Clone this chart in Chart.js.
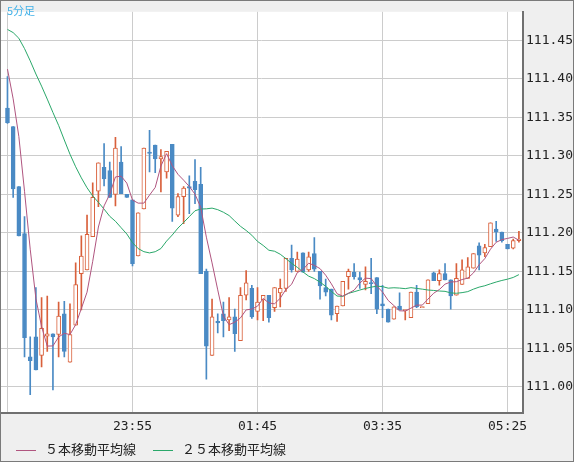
<!DOCTYPE html>
<html>
<head>
<meta charset="utf-8">
<script src="https://cdn.jsdelivr.net/npm/chart.js@4"></script>
<style>
  body { margin: 0; background: #efefef; font-family: "Noto Sans CJK JP", sans-serif; }
  #wrap { position: relative; width: 574px; height: 462px; box-sizing: border-box; border: 1px solid #7a7a7a; background: #efefef; }
  #box { position: absolute; left: 0; top: 0; width: 572px; height: 438px; }
  #title { position: absolute; left: 6px; top: 1px; font-size: 11px; color: #3fb0e8; }
  #legend { position: absolute; left: 0; top: 437px; width: 572px; height: 23px; font-size: 13px; color: #222; }
  .item { position: absolute; top: 1px; }
  .sw { display: inline-block; width: 20px; height: 1px; vertical-align: middle; margin-right: 9px; }
</style>
</head>
<body>
<div id="wrap">
  <div id="box"><canvas id="myChart"></canvas></div>
  <div id="title">5分足</div>
  <div id="legend">
    <span class="item" style="left:15px"><span class="sw" style="background:#b0557f"></span>５本移動平均線</span>
    <span class="item" style="left:152px"><span class="sw" style="background:#2aa86a"></span>２５本移動平均線</span>
  </div>
</div>
<script>
let timeLabels = { 0: "", 22: "23:55", 44: "01:45", 66: "03:35", 88: "05:25" };
let priceTicks = [111.00, 111.05, 111.10, 111.15, 111.20, 111.25, 111.30, 111.35, 111.40, 111.45];

// closes of the 24 candles before the visible window (only feed the averages)
let priorCloses = [111.36, 111.38, 111.40, 111.43, 111.45, 111.47, 111.49, 111.50, 111.51, 111.52, 111.53, 111.54,
  111.53, 111.52, 111.51, 111.50, 111.49, 111.48, 111.47, 111.46, 111.45, 111.44, 111.42, 111.41];

let opens = [111.362, 111.338, 111.260, 111.199, 111.039, 111.065, 111.041, 111.066, 111.069, 111.068,
  111.095, 111.032, 111.080, 111.147, 111.152, 111.195, 111.254, 111.285, 111.281, 111.250,
  111.292, 111.250, 111.243, 111.170, 111.231, 111.305, 111.314, 111.296, 111.279, 111.315,
  111.223, 111.247, 111.260, 111.267, 111.263, 111.150, 111.041, 111.085, 111.095, 111.087,
  111.091, 111.060, 111.119, 111.128, 111.098, 111.113, 111.119, 111.103, 111.122, 111.128,
  111.167, 111.150, 111.174, 111.152, 111.173, 111.150, 111.129, 111.127, 111.095, 111.105,
  111.143, 111.149, 111.142, 111.133, 111.135, 111.142, 111.108, 111.101, 111.088, 111.105,
  111.099, 111.090, 111.123, 111.103, 111.108, 111.148, 111.138, 111.147, 111.139, 111.119,
  111.133, 111.141, 111.154, 111.183, 111.174, 111.182, 111.205, 111.201, 111.185, 111.180, 111.190];
let highs = [111.403, 111.338, 111.260, 111.221, 111.065, 111.129, 111.116, 111.118, 111.069, 111.110,
  111.111, 111.108, 111.161, 111.196, 111.223, 111.265, 111.291, 111.316, 111.292, 111.324,
  111.312, 111.250, 111.243, 111.226, 111.310, 111.333, 111.314, 111.308, 111.306, 111.315,
  111.251, 111.260, 111.274, 111.295, 111.285, 111.153, 111.114, 111.095, 111.110, 111.116,
  111.101, 111.129, 111.151, 111.132, 111.129, 111.119, 111.119, 111.129, 111.140, 111.167,
  111.184, 111.175, 111.174, 111.175, 111.194, 111.150, 111.140, 111.127, 111.105, 111.137,
  111.153, 111.160, 111.149, 111.156, 111.167, 111.142, 111.132, 111.101, 111.104, 111.122,
  111.100, 111.123, 111.132, 111.104, 111.139, 111.149, 111.152, 111.160, 111.139, 111.160,
  111.165, 111.168, 111.173, 111.187, 111.185, 111.213, 111.215, 111.201, 111.185, 111.192, 111.202];
let lows = [111.342, 111.246, 111.196, 111.039, 110.990, 111.022, 111.026, 111.046, 110.996, 111.039,
  111.039, 111.032, 111.080, 111.100, 111.152, 111.195, 111.234, 111.261, 111.246, 111.235,
  111.251, 111.246, 111.157, 111.170, 111.231, 111.279, 111.278, 111.253, 111.271, 111.215,
  111.221, 111.212, 111.225, 111.238, 111.147, 111.010, 111.041, 111.070, 111.065, 111.073,
  111.046, 111.060, 111.113, 111.089, 111.087, 111.086, 111.084, 111.098, 111.104, 111.124,
  111.149, 111.150, 111.149, 111.150, 111.150, 111.114, 111.118, 111.087, 111.085, 111.105,
  111.127, 111.140, 111.128, 111.126, 111.121, 111.095, 111.090, 111.084, 111.088, 111.100,
  111.087, 111.090, 111.103, 111.103, 111.108, 111.138, 111.132, 111.139, 111.101, 111.119,
  111.133, 111.141, 111.154, 111.152, 111.169, 111.182, 111.189, 111.188, 111.179, 111.179, 111.188];
let closes = [111.343, 111.257, 111.196, 111.064, 111.034, 111.022, 111.076, 111.069, 111.065, 111.092,
  111.046, 111.068, 111.133, 111.170, 111.198, 111.246, 111.291, 111.270, 111.246, 111.310,
  111.251, 111.246, 111.160, 111.226, 111.310, 111.303, 111.296, 111.299, 111.306, 111.232,
  111.247, 111.258, 111.258, 111.256, 111.147, 111.053, 111.091, 111.083, 111.086, 111.091,
  111.069, 111.119, 111.135, 111.091, 111.110, 111.119, 111.090, 111.129, 111.128, 111.167,
  111.152, 111.166, 111.149, 111.169, 111.153, 111.131, 111.123, 111.093, 111.105, 111.137,
  111.150, 111.143, 111.139, 111.137, 111.134, 111.101, 111.105, 111.084, 111.104, 111.100,
  111.100, 111.123, 111.104, 111.104, 111.139, 111.138, 111.147, 111.139, 111.118, 111.141,
  111.152, 111.156, 111.173, 111.171, 111.181, 111.213, 111.201, 111.190, 111.179, 111.190, 111.192];

const UP = "#d9603b", DOWN = "#4a8ac4";

function movingAverage(n) {
  let all = priorCloses.concat(closes);
  let out = [];
  for (let i = 0; i < closes.length; i++) {
    let end = priorCloses.length + i;
    let s = 0;
    for (let k = end - n + 1; k <= end; k++) s += all[k];
    out.push({ x: i, y: s / n });
  }
  return out;
}

let bodies = opens.map((o, i) => ({ x: i, y: [o, closes[i]] }));
let wicks = opens.map((o, i) => ({ x: i, y: [lows[i], highs[i]] }));
let isUp = i => closes[i] >= opens[i];

// white plot background on the gray page
let plotBg = {
    id: "plotBg",
    beforeDraw(chart) {
        let a = chart.chartArea, ctx = chart.ctx;
        ctx.save();
        ctx.fillStyle = "#ffffff";
        ctx.fillRect(a.left, a.top, a.right - a.left, a.bottom - a.top);
        ctx.restore();
    }
};

let myChart = document.getElementById("myChart").getContext("2d");

let fxChart = new Chart(myChart, {
    type: "bar",
    plugins: [plotBg],
    data: {
        datasets: [
            {
                type: "line",
                label: "MA5",
                data: movingAverage(5),
                borderColor: "#b0557f",
                borderWidth: 1,
                pointRadius: 0,
                tension: 0,
                order: 0
            },
            {
                type: "line",
                label: "MA25",
                data: movingAverage(25),
                borderColor: "#2aa86a",
                borderWidth: 1,
                pointRadius: 0,
                tension: 0,
                order: 0
            },
            {
                label: "body",
                data: bodies,
                barThickness: 4,
                minBarLength: 1,
                borderWidth: 1,
                borderSkipped: false,
                borderColor: c => isUp(c.dataIndex) ? UP : DOWN,
                backgroundColor: c => isUp(c.dataIndex) ? "#ffffff" : DOWN,
                grouped: false,
                order: 1
            },
            {
                label: "wick",
                data: wicks,
                barThickness: 1,
                backgroundColor: c => isUp(c.dataIndex) ? UP : DOWN,
                grouped: false,
                order: 2
            }
        ],
    },
    options: {
        responsive: true,
        maintainAspectRatio: false,
        animation: false,
        layout: { padding: 0 },
        plugins: { legend: { display: false }, tooltip: { enabled: false } },
        scales: {
            x: {
                type: "linear",
                offset: false,
                min: -1.14,
                max: 90.72,
                afterBuildTicks: s => { s.ticks = Object.keys(timeLabels).map(v => ({ value: +v })); },
                ticks: {
                    callback: v => timeLabels[v] || "",
                    color: "#222",
                    font: { family: "DejaVu Sans Mono", size: 13 },
                    maxRotation: 0,
                    padding: 5
                },
                grid: { color: "#cccccc", drawTicks: false, offset: false },
                border: { color: "#707070", width: 2 }
            },
            y: {
                position: "right",
                min: 110.9656,
                max: 111.487,
                afterBuildTicks: s => { s.ticks = priceTicks.map(v => ({ value: v })); },
                afterFit: s => { s.width = 50; },
                ticks: {
                    callback: v => v.toFixed(2),
                    color: "#222",
                    font: { family: "DejaVu Sans Mono", size: 13 },
                    padding: 3
                },
                grid: { color: "#cccccc", drawTicks: false },
                border: { color: "#707070", width: 2 }
            }
        }
    }
});
</script>
</body>
</html>
